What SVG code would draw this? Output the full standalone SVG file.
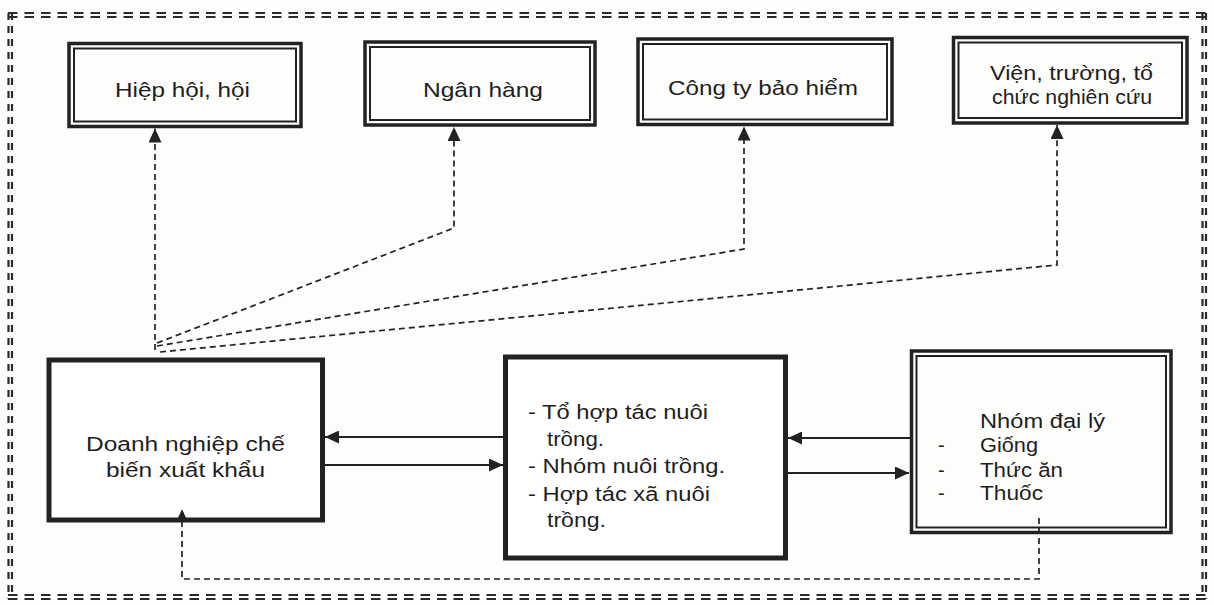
<svg xmlns="http://www.w3.org/2000/svg" width="1214" height="605" viewBox="0 0 1214 605">
<style>
.frameH{stroke:#2a2a2a;stroke-width:2.2;stroke-dasharray:9.5 7;fill:none}
.frameV{stroke:#2a2a2a;stroke-width:2.2;stroke-dasharray:7 6;fill:none}
.outer{fill:none;stroke:#222;stroke-width:3.5}
.inner{fill:none;stroke:#222;stroke-width:2}
.thick{fill:#fff;stroke:#222;stroke-width:5}
.dash{fill:none;stroke:#222;stroke-width:1.7;stroke-dasharray:6 4}
.solid{fill:none;stroke:#222;stroke-width:2}
text{font-family:"Liberation Sans",Arial,sans-serif;fill:#1e1e1e}
.t1{font-size:21px}
.t2{font-size:20px}
</style>
<defs>
<marker id="ah" markerUnits="userSpaceOnUse" markerWidth="14" markerHeight="13" viewBox="0 0 14 13" refX="14" refY="6.5" orient="auto">
<path d="M0,0 L14,6.5 L0,13 z" fill="#222"/>
</marker>
<marker id="ahs" markerUnits="userSpaceOnUse" markerWidth="10" markerHeight="9" viewBox="0 0 10 9" refX="10" refY="4.5" orient="auto">
<path d="M0,0 L10,4.5 L0,9 z" fill="#222"/>
</marker>
</defs>
<rect width="1214" height="605" fill="#fdfdfb"/>
<g id="frame">
<line class="frameH" x1="8" y1="13" x2="1206" y2="13"/>
<line class="frameH" x1="8" y1="17" x2="1206" y2="17"/>
<line class="frameH" x1="8" y1="595" x2="1206" y2="595"/>
<line class="frameH" x1="8" y1="599" x2="1206" y2="599"/>
<line class="frameV" x1="8.5" y1="13" x2="8.5" y2="599"/>
<line class="frameV" x1="12" y1="13" x2="12" y2="599"/>
<line class="frameV" x1="1202.5" y1="13" x2="1202.5" y2="599"/>
<line class="frameV" x1="1206" y1="13" x2="1206" y2="599"/>
</g>
<g id="node-hiephoi">
<rect class="outer" x="69" y="43.5" width="232" height="83"/>
<rect class="inner" x="74" y="48.5" width="222" height="73"/>
<text class="t1" x="115" y="97" textLength="135" lengthAdjust="spacingAndGlyphs">Hiệp hội, hội</text>
</g>
<g id="node-nganhang">
<rect class="outer" x="365" y="42" width="230" height="83"/>
<rect class="inner" x="370" y="47" width="220" height="73"/>
<text class="t1" x="423" y="97" textLength="120" lengthAdjust="spacingAndGlyphs">Ngân hàng</text>
</g>
<g id="node-congty">
<rect class="outer" x="638" y="39" width="254" height="85.5"/>
<rect class="inner" x="643" y="44" width="244" height="75.5"/>
<text class="t1" x="668" y="95" textLength="190" lengthAdjust="spacingAndGlyphs">Công ty bảo hiểm</text>
</g>
<g id="node-vien">
<rect class="outer" x="953.5" y="37.5" width="233.5" height="85.5"/>
<rect class="inner" x="958.5" y="42.5" width="223.5" height="75.5"/>
<text class="t1" x="990" y="80" textLength="163" lengthAdjust="spacingAndGlyphs">Viện, trường, tổ</text>
<text class="t1" x="992" y="104" textLength="160" lengthAdjust="spacingAndGlyphs">chức nghiên cứu</text>
</g>
<g id="node-doanhnghiep">
<rect class="thick" x="49" y="360" width="273.5" height="160"/>
<text class="t2" x="86" y="451" textLength="199" lengthAdjust="spacingAndGlyphs">Doanh nghiệp chế</text>
<text class="t2" x="106" y="477" textLength="159" lengthAdjust="spacingAndGlyphs">biến xuất khẩu</text>
</g>
<g id="node-tohop">
<rect class="thick" x="505.5" y="357" width="280" height="201"/>
<text class="t2" x="528" y="419" textLength="180" lengthAdjust="spacingAndGlyphs">- Tổ hợp tác nuôi</text>
<text class="t2" x="547" y="446" textLength="57" lengthAdjust="spacingAndGlyphs">trồng.</text>
<text class="t2" x="528" y="473" textLength="197" lengthAdjust="spacingAndGlyphs">- Nhóm nuôi trồng.</text>
<text class="t2" x="528" y="501" textLength="182" lengthAdjust="spacingAndGlyphs">- Hợp tác xã nuôi</text>
<text class="t2" x="547" y="527" textLength="59" lengthAdjust="spacingAndGlyphs">trồng.</text>
</g>
<g id="node-nhomdaily">
<rect class="outer" x="911.5" y="351" width="259.5" height="181.5"/>
<rect class="inner" x="916.5" y="356" width="249.5" height="171.5"/>
<text class="t2" x="980" y="428" textLength="125" lengthAdjust="spacingAndGlyphs">Nhóm đại lý</text>
<text class="t2" x="938" y="452">-</text>
<text class="t2" x="980" y="452" textLength="58" lengthAdjust="spacingAndGlyphs">Giống</text>
<text class="t2" x="938" y="477">-</text>
<text class="t2" x="980" y="477" textLength="83" lengthAdjust="spacingAndGlyphs">Thức ăn</text>
<text class="t2" x="938" y="500">-</text>
<text class="t2" x="980" y="500" textLength="63" lengthAdjust="spacingAndGlyphs">Thuốc</text>
</g>
<g id="connectors">
<path class="dash" d="M155,350 L155,128.5" marker-end="url(#ah)"/>
<path class="dash" d="M157,343 L454,228 L454,127" marker-end="url(#ah)"/>
<path class="dash" d="M157,346 L744,249 L744,126.5" marker-end="url(#ah)"/>
<path class="dash" d="M160,352 L1057,265 L1057,125" marker-end="url(#ah)"/>
<path class="dash" d="M1039,518 L1039,579 L182,579 L182,509" marker-end="url(#ahs)"/>
<path class="solid" d="M503,437 L325,437" marker-end="url(#ah)"/>
<path class="solid" d="M325,465 L503,465" marker-end="url(#ah)"/>
<path class="solid" d="M910,438 L788,438" marker-end="url(#ah)"/>
<path class="solid" d="M788,473 L909,473" marker-end="url(#ah)"/>
</g>
</svg>
